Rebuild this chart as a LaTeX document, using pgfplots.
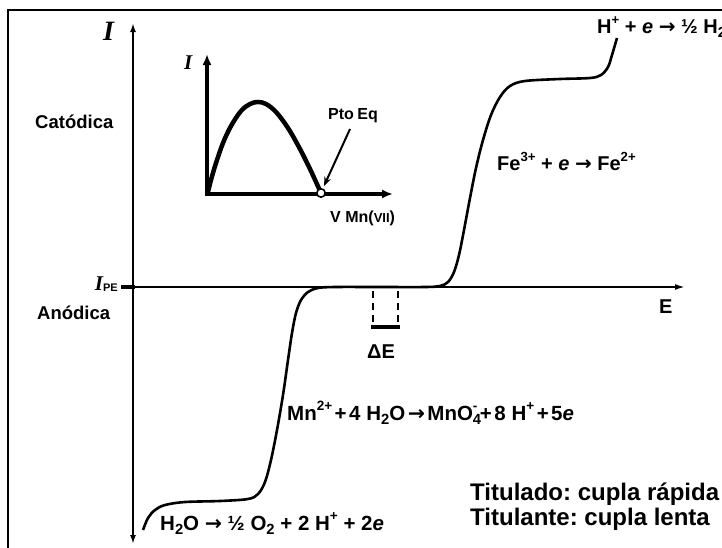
\documentclass[border=0pt]{standalone}
\usepackage{pgfplots}
\pgfplotsset{compat=1.18}
\usepackage{graphicx}
\usepackage{fontspec}
\setmainfont{Liberation Sans}
\newfontfamily\seriffont{Liberation Serif}
\newfontfamily\arrowfont{DejaVu Sans}
\usetikzlibrary{arrows.meta}
\frenchspacing

\newcommand{\fs}[1]{\fontsize{#1}{#1}\selectfont\bfseries}
\newcommand{\ee}{\textit{e}}
\newcommand{\ar}{{\arrowfont →}}
\newcommand{\dn}[1]{\raisebox{-0.4ex}{\scalebox{0.72}{#1}}}
\newcommand{\up}[1]{\raisebox{0.85ex}{\scalebox{0.66}{#1}}}
\newcommand{\Ivar}[1]{{\fontsize{#1}{#1}\selectfont\seriffont\bfseries\itshape I}}

\begin{document}
\begin{tikzpicture}
\begin{axis}[
  scale only axis, width=722pt, height=547pt,
  xmin=0, xmax=722, ymin=0, ymax=547, y dir=reverse,
  hide axis, clip=true,
]
\coordinate (bl) at (axis cs:0,547);
\coordinate (tr) at (axis cs:722,0);

% frame
\draw[line width=2.4pt] (8,560) -- (8,10) -- (740,10);

% main axes
\draw[line width=2.4pt, {Latex[length=9pt,width=6pt]}-{Latex[length=9pt,width=6pt]}] (133,544) -- (133,23);
\draw[line width=1.8pt, -{Latex[length=10pt,width=6pt]}] (133,287) -- (685,287);
\draw[line width=4pt] (121,287) -- (135,287);

% voltammetric curve
\addplot[line width=2.6pt, smooth, tension=0.55] coordinates {
(143,530) (148,518) (155,510) (165,505) (185,502) (220,501) (248,499)
(258,494) (265,482) (271,460) (277,430) (283,395) (288,360) (292,333)
(296,313) (301,300) (308,292) (318,288) (335,287) (380,287) (425,287)
(440,286) (448,282) (454,272) (459,255) (464,230) (470,198) (476,168)
(483,140) (491,115) (500,97) (510,86) (525,81) (560,79) (590,78)
(601,75) (608,67) (612,55) (617,38)
};

% Delta E window
\draw[line width=2.6pt, dash pattern=on 7pt off 5pt] (373,291) -- (373,325);
\draw[line width=2.6pt, dash pattern=on 7pt off 5pt] (398,291) -- (398,325);
\draw[line width=4pt] (371,327) -- (400,327);

% inset: amperometric titration curve
\draw[line width=3.4pt, -{Latex[length=11pt,width=9pt]}] (207,196) -- (207,54);
\draw[line width=3.4pt, -{Latex[length=11pt,width=9pt]}] (205.3,194) -- (393,194);
\addplot[line width=4.5pt, smooth, tension=0.6] coordinates {
(208,192) (211,180) (216,163) (223,143) (231,126) (241,111) (250,104)
(258,102) (266,104) (276,112) (288,128) (300,149) (310,169) (316,182) (321,193)
};
\draw[line width=2pt, -{Stealth[length=9pt,width=7pt]}] (350,129) -- (324,186);
\addplot[only marks, mark=*, mark size=4.2pt,
  mark options={fill=white, draw=black, line width=1.6pt}] coordinates {(321,193)};

% labels
\node[anchor=base west, inner sep=0] at (103,40) {\Ivar{28}};
\node[anchor=base west, inner sep=0] at (184,69) {\Ivar{21}};
\node[anchor=base east, inner sep=0] at (118,290)
  {\Ivar{21}\raisebox{-1.5pt}{\fs{11}PE}};
\node[anchor=base west, inner sep=0] at (35,128) {\fs{18.5}Catódica};
\node[anchor=base west, inner sep=0] at (37,319) {\fs{18.5}Anódica};
\node[anchor=base west, inner sep=0] at (659,313) {\fs{20}E};
\node[anchor=base west, inner sep=0] at (367,358) {\fs{20}ΔE};
\node[anchor=base west, inner sep=0] at (328,119) {\fs{16}Pto\hspace{-1pt} Eq};
\node[anchor=base west, inner sep=0] at (330,222) {\fs{16}V Mn({\fs{13}VII})};
\node[anchor=base west, inner sep=0] at (497,170)
  {\fs{20}Fe\up{3+} + \ee\ \ar\ Fe\up{2+}};
\node[anchor=base west, inner sep=0] at (597,33)
  {\fs{20}H\up{+} + \ee\ \ar\ ½ H\dn{2}};
\node[anchor=base west, inner sep=0] at (287,420)
  {\fs{20.5}Mn\up{2+}\kern2.5pt+\kern2.5pt4 H\dn{2}O\kern2.5pt\ar\kern2.5ptMnO\makebox[0pt][l]{\dn{4}}\up{-}\kern2.5pt+\kern2.5pt8 H\up{+}\kern2.5pt+\kern2.5pt5\ee};
\node[anchor=base west, inner sep=0] at (160,530)
  {\fs{20.5}H\dn{2}O \ar\ ½ O\dn{2} + 2 H\up{+} + 2\ee};
\node[anchor=base west, inner sep=0] at (470,500) {\fs{24}Titulado: cupla rápida};
\node[anchor=base west, inner sep=0] at (470,525) {\fs{24}Titulante: cupla lenta};
\end{axis}
\pgfresetboundingbox
\path[use as bounding box] (bl) rectangle (tr);
\end{tikzpicture}
\end{document}
